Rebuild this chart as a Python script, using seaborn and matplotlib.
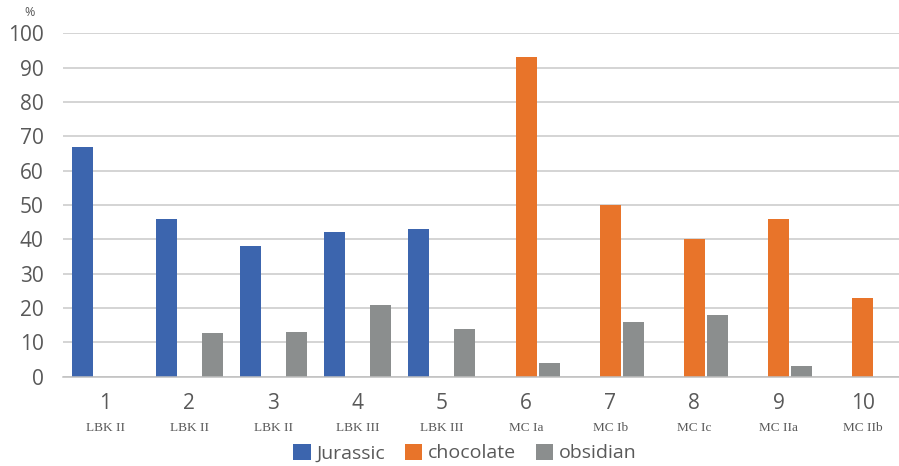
import numpy as np
import pandas as pd
import matplotlib
matplotlib.use("Agg")
import matplotlib.pyplot as plt
import matplotlib.transforms as mtransforms
import seaborn as sns

# Sample numbers, cultural phases and raw-material shares (%)
samples = ["1", "2", "3", "4", "5", "6", "7", "8", "9", "10"]
phases = ["LBK II", "LBK II", "LBK II", "LBK III", "LBK III",
          "MC Ia", "MC Ib", "MC Ic", "MC IIa", "MC IIb"]
jurassic = [67, 46, 38, 42, 43, 0, 0, 0, 0, 0]
chocolate = [0, 0, 0, 0, 0, 93, 50, 40, 46, 23]
obsidian = [0, 12.7, 13, 21, 14, 4, 16, 18, 3, 0]
materials = ["Jurassic", "chocolate", "obsidian"]
colors = ["#3C65AE", "#E8742A", "#8B8E8E"]
yticks = [0, 10, 20, 30, 40, 50, 60, 70, 80, 90, 100]

df = pd.DataFrame({
    "sample": samples * 3,
    "material": sum([[m] * len(samples) for m in materials], []),
    "share": jurassic + chocolate + obsidian,
})

sns.set_theme(style="white")
plt.rcParams["font.family"] = ["Open Sans", "DejaVu Sans"]
text_color = "#595959"

fig = plt.figure(figsize=(8.99, 4.66), dpi=100)
ax = fig.add_axes([63 / 899, 1 - 376.7 / 466, 1 - 63 / 899, (376.7 - 33.3) / 466])

sns.barplot(data=df, x="sample", y="share", hue="material",
            order=samples, hue_order=materials, palette=colors,
            width=0.82, gap=0.09, saturation=1, legend=True, ax=ax,
            linewidth=0)

ax.set_ylim(0, 100)
ax.set_xlim(-0.5, 9.43)
ax.set_yticks(yticks)
ax.set_yticklabels([str(t) for t in yticks], fontsize=15, color=text_color)
ax.yaxis.grid(True, color="#C9C9C9", linewidth=1.1)
ax.set_axisbelow(True)
for s in ["top", "right", "left"]:
    ax.spines[s].set_visible(False)
ax.spines["bottom"].set_color("#BFBFBF")
ax.spines["bottom"].set_linewidth(1.1)
ax.tick_params(axis="y", length=0, pad=14)
ax.set_xlabel("")
ax.set_ylabel("")

ax.set_xticks(range(len(samples)))
ax.set_xticklabels(samples, fontsize=15, color=text_color)
ax.tick_params(axis="x", length=0, pad=12)

# Phase names under the sample numbers
trans = mtransforms.blended_transform_factory(ax.transData, fig.transFigure)
for i, ph in enumerate(phases):
    ax.text(i, 1 - 428 / 466, ph, transform=trans, ha="center", va="center",
            fontsize=9.5, family="Liberation Serif", color=text_color)

fig.text(30 / 899, 1 - 13 / 466, "%", ha="center", va="center",
         fontsize=9, color=text_color)

handles, labels = ax.get_legend_handles_labels()
ax.get_legend().remove()
fig.legend(handles, labels, loc="center", bbox_to_anchor=(465 / 899, 1 - 453 / 466),
           ncol=3, frameon=False, fontsize=14, handlelength=0.9, handleheight=0.9,
           handletextpad=0.3, columnspacing=1.0, labelcolor=text_color)

fig.savefig("out.png", dpi=100)
